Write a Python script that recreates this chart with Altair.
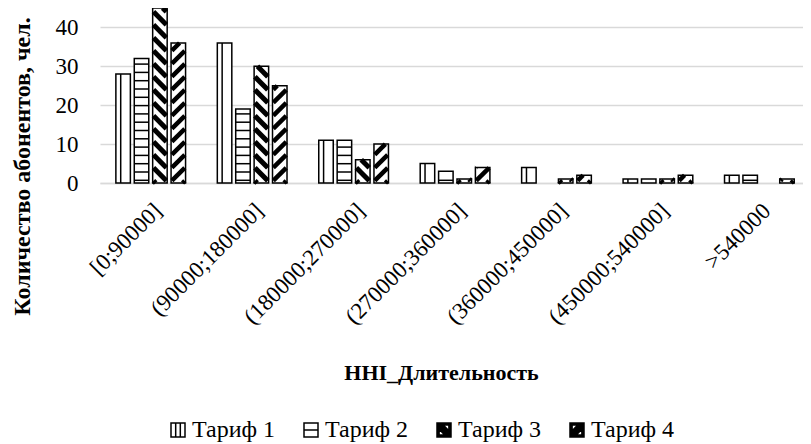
import altair as alt
import pandas as pd

# ---------------- data ----------------
categories = ["[0;90000]", "(90000;180000]", "(180000;270000]", "(270000;360000]",
              "(360000;450000]", "(450000;540000]", ">540000"]
series_names = ["Тариф 1", "Тариф 2", "Тариф 3", "Тариф 4"]
tariff1 = [28, 36, 11, 5, 4, 1, 2]
tariff2 = [32, 19, 11, 3, 0, 1, 2]
tariff3 = [45, 30, 6, 1, 1, 1, 0]
tariff4 = [36, 25, 10, 4, 2, 2, 1]
y_ticks = [0, 10, 20, 30, 40]

# ---------------- layout / style ----------------
FONT = "Liberation Serif"
PLOT_W, PLOT_H = 703, 175
X_DOMAIN = [-0.5, 6.43]
Y_DOMAIN = [0, 45]
KX = PLOT_W / (X_DOMAIN[1] - X_DOMAIN[0])   # px per x unit
KY = PLOT_H / (Y_DOMAIN[1] - Y_DOMAIN[0])   # px per y unit
PITCH_PX, BAR_PX = 18.4, 14.5
GRID = "#d9d9d9"

series_values = [tariff1, tariff2, tariff3, tariff4]
rows = []
for t, (name, vals) in enumerate(zip(series_names, series_values)):
    for g, v in enumerate(vals):
        xc = g + (t - 1.5) * PITCH_PX / KX
        rows.append(dict(name=name, t=t, g=g, value=v, xc=xc,
                         xl=xc - BAR_PX / 2 / KX, xr=xc + BAR_PX / 2 / KX, y0=0))
bars = pd.DataFrame(rows)
bars_nz = bars[bars["value"] > 0].copy()

# pattern strokes derived from each bar's value (pixel pattern -> data units)
stripes = []


def seg(b, x1, y1, x2, y2, sw):
    stripes.append(dict(name=b["name"], x=b["xl"] + x1 / KX, x2=b["xl"] + x2 / KX,
                        y=y1 / KY, y2=y2 / KY, sw=sw))


for _, b in bars_nz.iterrows():
    h = b["value"] * KY
    w = BAR_PX
    ins = 0.8
    if b["t"] == 0:
        seg(b, w / 3, 0, w / 3, h, 1.5)
    elif b["t"] == 1:
        yy = 2.7
        while yy < h - 2.5:
            seg(b, 0, yy, w, yy, 1.5)
            yy += 8.3
    elif b["t"] == 2:  # "\" stripes: y = c - x
        P = 13
        c = 3
        while c < h + w + P:
            lo = max(ins, c - h)
            hi = min(w - ins, c)
            if hi > lo:
                seg(b, lo, c - lo, hi, c - hi, 5)
            c += P
    else:  # "/" stripes: y = c + x
        P = 13
        c = -w + 3
        while c < h + P:
            lo = max(ins, -c)
            hi = min(w - ins, h - c)
            if hi > lo:
                seg(b, lo, c + lo, hi, c + hi, 4.5)
            c += P
stripes_df = pd.DataFrame(stripes)

label_expr = "[" + ",".join("'" + c + "'" for c in categories) + "][datum.value]"

x_scale = alt.Scale(domain=X_DOMAIN, nice=False, zero=False)
y_scale = alt.Scale(domain=Y_DOMAIN, nice=False)

x_axis = alt.Axis(
    values=list(range(len(categories))), labelExpr=label_expr,
    labelAngle=-45, labelAlign="right", labelBaseline="middle",
    labelPadding=24, labelOffset=7, labelFont=FONT, labelFontSize=23,
    labelColor="black", labelFlush=False, labelOverlap=False, labelBound=False,
    ticks=False, grid=False, domainColor=GRID, domainWidth=1.5,
    title="HHI_Длительность", titleFont=FONT, titleFontWeight="bold",
    titleFontSize=22, titleColor="black", titleX=341, titleY=189,
    titleAlign="center", titleBaseline="middle",
)
y_axis = alt.Axis(
    values=y_ticks, labelFont=FONT, labelFontSize=23, labelColor="black",
    labelPadding=22, ticks=False, domain=False, gridColor=GRID, gridWidth=1.3,
    title="Количество абонентов, чел.", titleFont=FONT, titleFontWeight="bold",
    titleFontSize=24, titleColor="black", titleX=-78, titleY=158,
    titleAngle=-90, titleAlign="center", titleBaseline="middle",
)


def X(f):
    return alt.X(f, type="quantitative", scale=x_scale, axis=x_axis)


def Y(f):
    return alt.Y(f, type="quantitative", scale=y_scale, axis=y_axis)


fill_layer = alt.Chart(bars_nz).mark_rect(fill="white").encode(
    x=X("xl"), x2=alt.X2("xr"), y=Y("y0"), y2=alt.Y2("value"))

stripe_layer = alt.Chart(stripes_df).mark_rule(color="black", strokeCap="butt").encode(
    x=X("x"), x2=alt.X2("x2"), y=Y("y"), y2=alt.Y2("y2"),
    strokeWidth=alt.StrokeWidth("sw:Q", scale=None))

outline_layer = alt.Chart(bars_nz).mark_rect(fillOpacity=0, stroke="black", strokeWidth=1.5).encode(
    x=X("xl"), x2=alt.X2("xr"), y=Y("y0"), y2=alt.Y2("value"))

legend_paths = [
    "M-1,-1H1V1H-1Z M-0.33,-1V1 M0.33,-1V1",
    "M-1,-1H1V1H-1Z M-1,0H1",
    "M-1,-1H1V1H-1Z M-0.1,-0.7L0.7,0.1L0.7,-0.7Z M-0.7,-0.1L-0.7,0.7L0.1,0.7Z",
    "M-1,-1H1V1H-1Z M-0.7,-0.7L-0.7,0.1L0.1,-0.7Z M0.7,0.7L0.7,-0.1L-0.1,0.7Z",
]
legend_layer = alt.Chart(bars).mark_point(filled=True, opacity=0, size=196,
                                          strokeWidth=1.5).encode(
    x=X("xc"), y=Y("value"),
    shape=alt.Shape("name:N", scale=alt.Scale(domain=series_names, range=legend_paths),
                    legend=alt.Legend(title=None)),
    fill=alt.Fill("name:N", scale=alt.Scale(domain=series_names,
                                            range=["white", "white", "black", "black"]),
                  legend=alt.Legend(title=None)),
    stroke=alt.Stroke("name:N", scale=alt.Scale(domain=series_names,
                                                range=["black", "black", "black", "black"]),
                      legend=alt.Legend(title=None)),
)

chart = alt.layer(fill_layer, stripe_layer, outline_layer, legend_layer).properties(
    width=PLOT_W, height=PLOT_H,
    autosize=alt.AutoSizeParams(type="none"),
    padding={"left": 92, "top": 0, "right": 0, "bottom": 262},
).configure(font=FONT).configure_view(stroke=None).configure_legend(
    orient="none", legendX=66, legendY=410, direction="horizontal",
    symbolSize=196, symbolStrokeColor="black", symbolStrokeWidth=1.5, symbolOpacity=1,
    labelFont=FONT, labelFontSize=24, labelColor="black", labelOffset=2,
    columnPadding=23, padding=0,
)

chart.save("out.html", embed_options={"renderer": "svg", "actions": False})
